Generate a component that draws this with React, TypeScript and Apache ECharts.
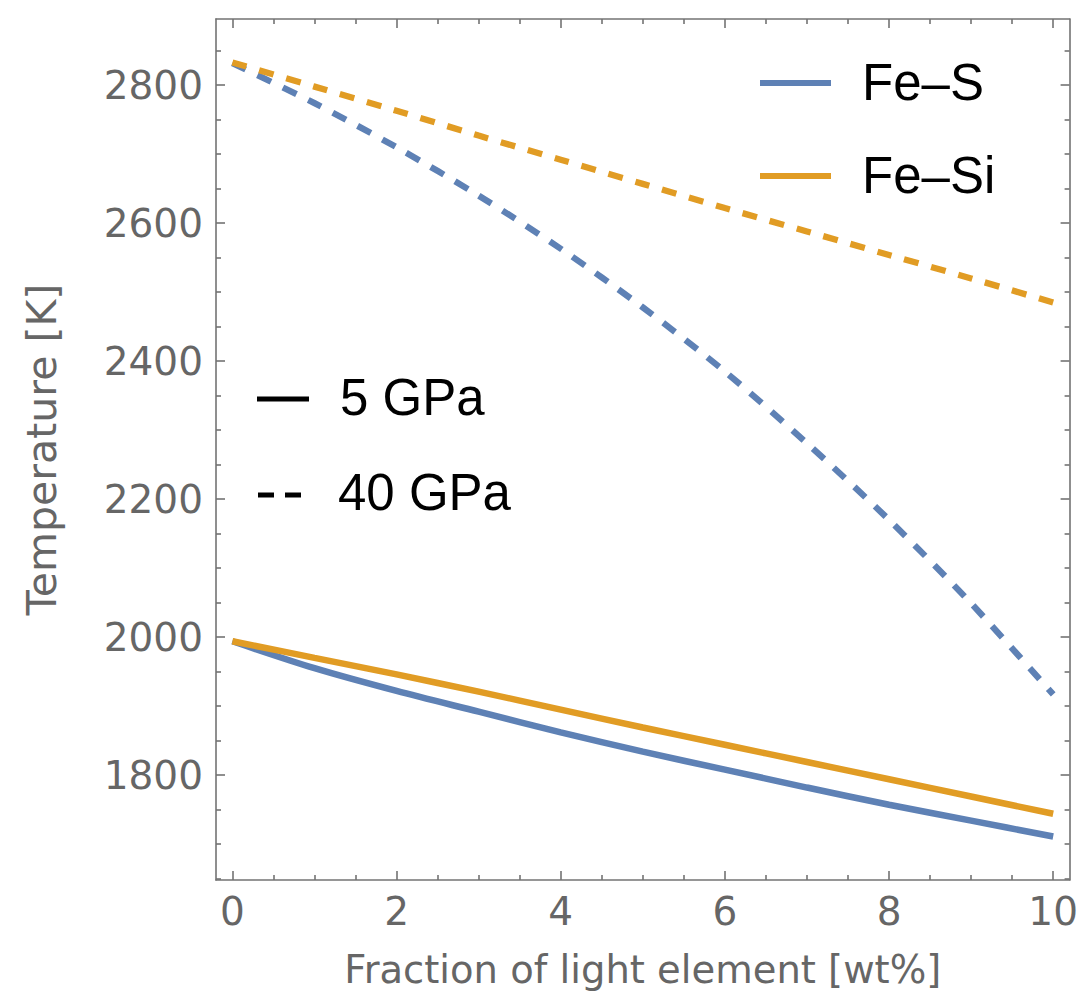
import React, { useEffect, useRef } from "react";
import * as echarts from "echarts";

const xValues = [0, 1, 2, 3, 4, 5, 6, 7, 8, 9, 10];
const feS5 = [1994, 1955, 1922, 1892, 1862, 1834, 1808, 1782, 1757, 1734, 1711];
const feSi5 = [1994, 1970, 1946, 1921, 1895, 1869, 1844, 1819, 1794, 1769, 1744];
const feS40 = [2832, 2774, 2710, 2640, 2563, 2478, 2385, 2281, 2170, 2049, 1917];
const feSi40 = [2833, 2798, 2763, 2727, 2692, 2657, 2622, 2588, 2554, 2520, 2485];

const xMajorTicks = [0, 2, 4, 6, 8, 10];
const xMinorTicks = [0.5, 1, 1.5, 2.5, 3, 3.5, 4.5, 5, 5.5, 6.5, 7, 7.5, 8.5, 9, 9.5];
const yMajorTicks = [1800, 2000, 2200, 2400, 2600, 2800];
const yMinorTicks = [1650, 1700, 1750, 1850, 1900, 1950, 2050, 2100, 2150, 2250, 2300, 2350, 2450, 2500, 2550, 2650, 2700, 2750, 2850];

const X_MIN = -0.2;
const X_MAX = 10.2;
const Y_MIN = 1648;
const Y_MAX = 2896;

const BLUE = "#5E81B5";
const ORANGE = "#E19C24";
const FRAME = "#737373";
const TEXT_GRAY = "#666666";

function pairs(ys: number[]) {
  return xValues.map((x, i) => [x, ys[i]]);
}

export default function App() {
  const ref = useRef<HTMLDivElement>(null);
  useEffect(() => {
    if (!ref.current) return;
    const chart = echarts.init(ref.current, undefined, { renderer: "svg" });

    const tickAxis = (
      kind: "x" | "y",
      position: string,
      values: number[],
      len: number,
      main: boolean,
      labels: boolean
    ) => ({
      type: "value",
      position,
      min: kind === "x" ? X_MIN : Y_MIN,
      max: kind === "x" ? X_MAX : Y_MAX,
      axisLine: { show: main, onZero: false, lineStyle: { color: FRAME, width: 1.6 } },
      axisTick: {
        show: true,
        inside: true,
        length: len,
        customValues: values,
        lineStyle: { color: FRAME, width: 1.6 },
      },
      axisLabel: labels
        ? {
            show: true,
            customValues: values,
            formatter: (v: number) => String(v),
            color: TEXT_GRAY,
            fontFamily: "DejaVu Sans",
            fontSize: 39,
            margin: kind === "x" ? 12 : 13,
          }
        : { show: false },
      splitLine: { show: false },
    });

    const xName = {
      name: "Fraction of light element [wt%]",
      nameLocation: "middle",
      nameGap: 70,
      nameTextStyle: { color: TEXT_GRAY, fontFamily: "DejaVu Sans", fontSize: 38.5 },
    };
    const yName = {
      name: "Temperature [K]",
      nameLocation: "middle",
      nameGap: 154,
      nameTextStyle: { color: TEXT_GRAY, fontFamily: "DejaVu Sans", fontSize: 41 },
    };

    const legendFont = "Liberation Sans";
    const curve = (name: string, ys: number[], color: string, dashed: boolean) => ({
      name,
      type: "line",
      data: pairs(ys),
      smooth: 0.3,
      showSymbol: false,
      lineStyle: dashed
        ? { color, width: 6.3, type: [15, 13], cap: "butt" }
        : { color, width: 6.5, cap: "butt" },
    });

    chart.setOption({
      animation: false,
      grid: { left: 216, top: 19, width: 860, height: 861, containLabel: false },
      xAxis: [
        { ...tickAxis("x", "bottom", xMajorTicks, 9, true, true), ...xName },
        tickAxis("x", "bottom", xMinorTicks, 5, false, false),
        tickAxis("x", "top", xMajorTicks, 9, true, false),
        tickAxis("x", "top", xMinorTicks, 5, false, false),
      ],
      yAxis: [
        { ...tickAxis("y", "left", yMajorTicks, 9, true, true), ...yName },
        tickAxis("y", "left", yMinorTicks, 5, false, false),
        tickAxis("y", "right", yMajorTicks, 9, true, false),
        tickAxis("y", "right", yMinorTicks, 5, false, false),
      ],
      series: [
        curve("Fe–S 5 GPa", feS5, BLUE, false),
        curve("Fe–Si 5 GPa", feSi5, ORANGE, false),
        curve("Fe–S 40 GPa", feS40, BLUE, true),
        curve("Fe–Si 40 GPa", feSi40, ORANGE, true),
      ],
      graphic: [
        { type: "line", shape: { x1: 760, y1: 83, x2: 831, y2: 83 }, style: { stroke: BLUE, lineWidth: 6 } },
        {
          type: "text",
          x: 862,
          y: 82,
          style: { text: "Fe–S", fill: "#000", font: `51px "${legendFont}"`, verticalAlign: "middle" },
        },
        { type: "line", shape: { x1: 760, y1: 176, x2: 831, y2: 176 }, style: { stroke: ORANGE, lineWidth: 6 } },
        {
          type: "text",
          x: 862,
          y: 175,
          style: { text: "Fe–Si", fill: "#000", font: `51px "${legendFont}"`, verticalAlign: "middle" },
        },
        { type: "line", shape: { x1: 257, y1: 399, x2: 309, y2: 399 }, style: { stroke: "#000", lineWidth: 5 } },
        {
          type: "text",
          x: 340,
          y: 397,
          style: { text: "5 GPa", fill: "#000", font: `51px "${legendFont}"`, verticalAlign: "middle" },
        },
        { type: "line", shape: { x1: 258, y1: 495, x2: 274, y2: 495 }, style: { stroke: "#000", lineWidth: 5 } },
        { type: "line", shape: { x1: 285, y1: 495, x2: 301, y2: 495 }, style: { stroke: "#000", lineWidth: 5 } },
        {
          type: "text",
          x: 338,
          y: 492,
          style: { text: "40 GPa", fill: "#000", font: `51px "${legendFont}"`, verticalAlign: "middle" },
        },
      ],
    });
    return () => chart.dispose();
  }, []);

  return (
    <div
      ref={ref}
      style={{ position: "fixed", left: 0, top: 0, width: 1081, height: 1004, background: "#fff" }}
    />
  );
}
